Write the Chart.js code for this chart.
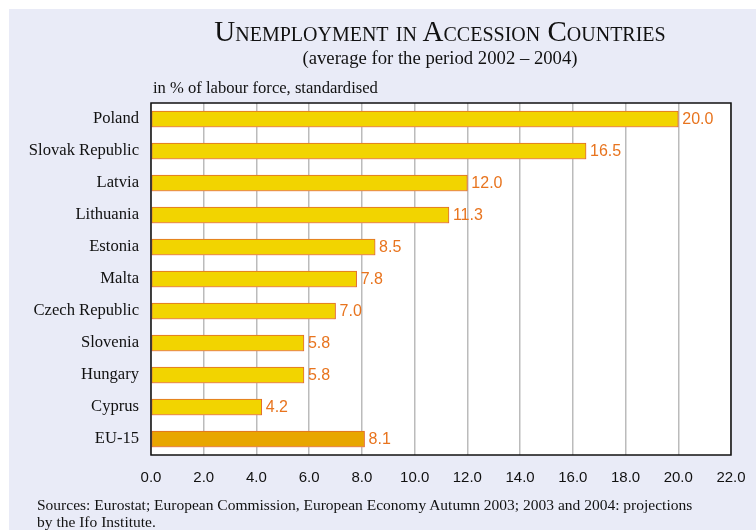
<!DOCTYPE html>
<html>
<head>
<meta charset="utf-8">
<script src="https://cdn.jsdelivr.net/npm/chart.js@4.4.0/dist/chart.umd.min.js"></script>
<style>
  html, body { margin: 0; padding: 0; background: #fff; }
  #wrap { position: relative; width: 756px; height: 530px; overflow: hidden; }
  #bg { position: absolute; left: 9px; top: 9px; right: 0; bottom: 0; background: #E9EBF7; }
  #chart { position: absolute; left: 0; top: 0; }
  .txt { position: absolute; font-family: "Liberation Serif", "Times New Roman", serif; color: #111; white-space: nowrap; }
  #title { left: 0; width: 880px; top: 15px; text-align: center; font-size: 29px; font-variant: small-caps; }
  #subtitle { left: 0; width: 880px; top: 47px; text-align: center; font-size: 18.7px; }
  #unit { left: 153px; top: 78px; font-size: 16.6px; }
  #source { left: 37px; top: 496px; font-size: 15.5px; line-height: 17px; }
</style>
</head>
<body>
<div id="wrap">
  <div id="bg"></div>
  <canvas id="chart" width="756" height="530"></canvas>
  <div class="txt" id="title">Unemployment in Accession Countries</div>
  <div class="txt" id="subtitle">(average for the period 2002 – 2004)</div>
  <div class="txt" id="unit">in % of labour force, standardised</div>
  <div class="txt" id="source">Sources: Eurostat; European Commission, European Economy Autumn 2003; 2003 and 2004: projections<br>by the Ifo Institute.</div>
</div>
<script>
const countries = ['Poland', 'Slovak Republic', 'Latvia', 'Lithuania', 'Estonia', 'Malta',
  'Czech Republic', 'Slovenia', 'Hungary', 'Cyprus', 'EU-15']
const unemployment = [20.0, 16.5, 12.0, 11.3, 8.5, 7.8, 7.0, 5.8, 5.8, 4.2, 8.1]
const barColors = ['#F2D400', '#F2D400', '#F2D400', '#F2D400', '#F2D400', '#F2D400',
  '#F2D400', '#F2D400', '#F2D400', '#F2D400', '#E8A600']

// white plot box with black frame
const plotBox = {
  id: 'plotBox',
  beforeDraw(chart) {
    const { ctx, chartArea: a } = chart
    ctx.save()
    ctx.fillStyle = '#fff'
    ctx.fillRect(a.left, a.top, a.right - a.left, a.bottom - a.top)
    ctx.restore()
  },
  afterDraw(chart) {
    const { ctx, chartArea: a } = chart
    ctx.save()
    ctx.strokeStyle = '#111'
    ctx.lineWidth = 1.5
    ctx.strokeRect(a.left, a.top, a.right - a.left, a.bottom - a.top)
    ctx.restore()
  }
}

// soft shadow under bars
const barShadow = {
  id: 'barShadow',
  beforeDatasetsDraw(chart) {
    chart.ctx.save()
    chart.ctx.shadowColor = 'rgba(240,150,130,0.55)'
    chart.ctx.shadowOffsetY = 2
    chart.ctx.shadowBlur = 1
  },
  afterDatasetsDraw(chart) {
    chart.ctx.restore()
  }
}

// value at the end of each bar
const valueLabels = {
  id: 'valueLabels',
  afterDatasetsDraw(chart) {
    const { ctx } = chart
    const meta = chart.getDatasetMeta(0)
    ctx.save()
    ctx.fillStyle = '#E8741E'
    ctx.font = '16px "Liberation Sans", Arial, sans-serif'
    ctx.textBaseline = 'middle'
    meta.data.forEach((bar, i) => {
      ctx.fillText(unemployment[i].toFixed(1), bar.x + 4, bar.y + 1)
    })
    ctx.restore()
  }
}

new Chart(document.getElementById('chart'), {
  type: 'bar',
  data: {
    labels: countries,
    datasets: [{
      data: unemployment,
      backgroundColor: barColors,
      borderColor: '#E06A2A',
      borderWidth: 1,
      borderSkipped: false,
      barThickness: 16
    }]
  },
  options: {
    indexAxis: 'y',
    responsive: false,
    animation: false,
    layout: { padding: { left: 0, top: 103, right: 25, bottom: 0 } },
    plugins: { legend: { display: false }, title: { display: false }, tooltip: { enabled: false } },
    scales: {
      x: {
        min: 0,
        max: 22,
        ticks: {
          stepSize: 2,
          padding: 14,
          color: '#111',
          font: { family: '"Liberation Sans", Arial, sans-serif', size: 15 },
          callback: v => v.toFixed(1)
        },
        grid: { color: '#BBBBBB', lineWidth: 1.5, drawTicks: false },
        border: { display: false },
        afterFit: s => { s.height = 75; s.paddingRight = 0; s.paddingLeft = 0 }
      },
      y: {
        ticks: {
          padding: 12,
          color: '#111',
          font: { family: '"Liberation Serif", "Times New Roman", serif', size: 16.6 }
        },
        grid: { display: false, drawTicks: false },
        border: { display: false },
        afterFit: s => { s.width = 151; s.paddingTop = 0; s.paddingBottom = 0 }
      }
    }
  },
  plugins: [plotBox, barShadow, valueLabels]
})
</script>
</body>
</html>
